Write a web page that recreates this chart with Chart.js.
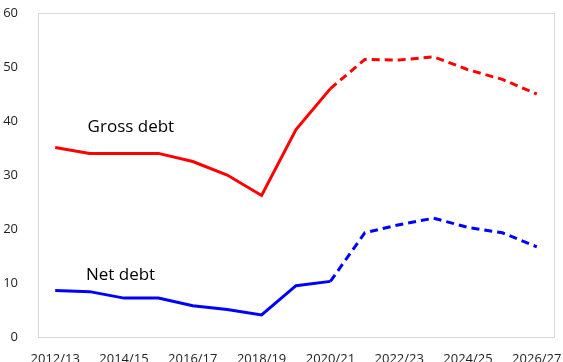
<!DOCTYPE html>
<html>
<head>
<meta charset="utf-8">
<script src="https://cdn.jsdelivr.net/npm/chart.js@4/dist/chart.umd.min.js"></script>
<style>
html,body{margin:0;padding:0;background:#fff;}
#wrap{width:563px;height:362px;}
</style>
</head>
<body>
<div id="wrap"><canvas id="c" width="563" height="362"></canvas></div>
<script>
const categories = ["2012/13","2013/14","2014/15","2015/16","2016/17","2017/18","2018/19","2019/20","2020/21","2021/22","2022/23","2023/24","2024/25","2025/26","2026/27"];
const grossDebt = [35.1,34.0,34.0,34.0,32.5,30.0,26.2,38.4,46.0,51.4,51.3,51.9,49.5,47.7,45.0];
const netDebt = [8.6,8.4,7.2,7.2,5.8,5.1,4.1,9.5,10.3,19.3,20.8,22.0,20.3,19.3,16.7];
const forecastFrom = 8; // index from which lines are dashed
const seriesLabels = ["Gross debt","Net debt"];
const labelPos = [[2.2,38.8],[1.9,11.5]]; // [category index, value] for annotation text

const FONT = "'Open Sans', 'DejaVu Sans', sans-serif";

const framePlugin = {
  id:'frame',
  beforeDatasetsDraw(chart){
    const a = chart.chartArea, ctx = chart.ctx;
    ctx.save();
    ctx.strokeStyle = '#d9d9d9';
    ctx.lineWidth = 1;
    ctx.strokeRect(Math.round(a.left)+0.5, Math.round(a.top)+0.5, Math.round(a.right-a.left), Math.round(a.bottom-a.top));
    ctx.restore();
  }
};
const textPlugin = {
  id:'texts',
  afterDatasetsDraw(chart){
    const ctx = chart.ctx, xs = chart.scales.x, ys = chart.scales.y;
    ctx.save();
    ctx.fillStyle = '#000';
    ctx.font = "17px " + FONT;
    ctx.textAlign = 'center';
    ctx.textBaseline = 'middle';
    seriesLabels.forEach((t,i)=>{
      ctx.fillText(t, xs.getPixelForValue(labelPos[i][0]), ys.getPixelForValue(labelPos[i][1]));
    });
    ctx.restore();
  }
};

const dashSeg = {borderDash: ctx => ctx.p0DataIndex >= forecastFrom ? [8,5] : undefined};

new Chart(document.getElementById('c'), {
  type:'line',
  data:{
    labels:categories,
    datasets:[
      {label:seriesLabels[0], data:grossDebt, borderColor:'#ff0000', borderWidth:3, pointRadius:0, tension:0, segment:dashSeg, fill:false},
      {label:seriesLabels[1], data:netDebt, borderColor:'#0000ff', borderWidth:3, pointRadius:0, tension:0, segment:dashSeg, fill:false}
    ]
  },
  options:{
    responsive:false,
    animation:false,
    devicePixelRatio:1,
    layout:{padding:{left:0,right:9,top:13,bottom:0}},
    plugins:{legend:{display:false},tooltip:{enabled:false}},
    scales:{
      x:{
        offset:true,
        grid:{display:false},
        border:{display:false},
        ticks:{autoSkip:false, maxRotation:0, color:'#222', font:{family:FONT,size:13}, padding:6,
          callback:function(v,i){ return i%2===0 ? categories[i] : ''; }},
        afterFit(s){ s.height = 25; s.paddingLeft = 0; s.paddingRight = 0; }
      },
      y:{
        min:0,max:60,
        grid:{display:false},
        border:{display:false},
        ticks:{stepSize:10, color:'#222', font:{family:FONT,size:13}, padding:12},
        afterFit(s){ s.width = 38; s.paddingTop = 0; s.paddingBottom = 0; }
      }
    }
  },
  plugins:[framePlugin,textPlugin]
});
</script>
</body>
</html>
